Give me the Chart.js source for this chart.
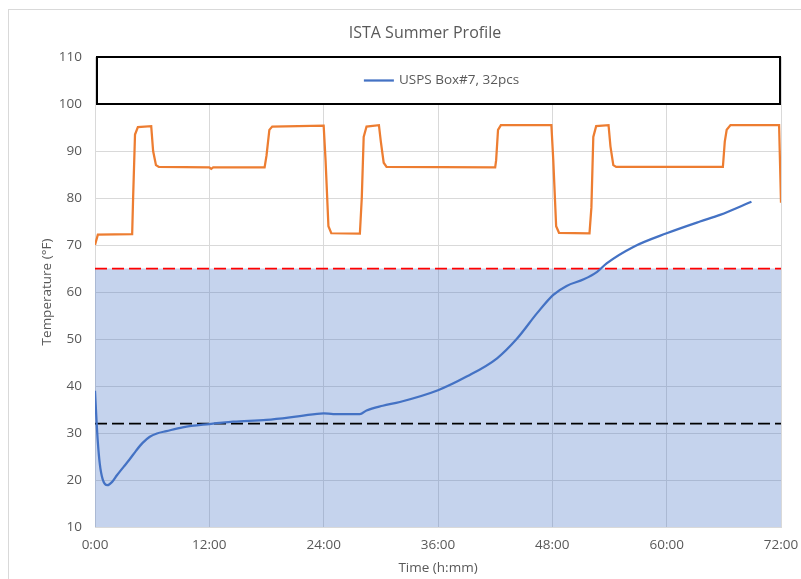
<!DOCTYPE html>
<html>
<head>
<meta charset="utf-8">
<script src="https://cdn.jsdelivr.net/npm/chart.js@4"></script>
<style>
  body { margin: 0; background: #fff; }
  #wrap { width: 801px; height: 579px; }
</style>
</head>
<body>
<div id="wrap"><canvas id="lineChart" width="801" height="579"></canvas></div>
<script>
// ISTA summer chamber profile (orange)
const profileHours = [0, 0.3, 3.9, 4.0, 4.2, 4.5, 5.9, 6.1, 6.4, 6.7, 12.0, 12.2, 12.4, 17.8, 18.0, 18.3, 18.6, 24.0,
    24.2, 24.5, 24.8, 27.8, 28.0, 28.2, 28.5, 29.8, 30.0, 30.3, 30.6, 42.0, 42.1, 42.3, 42.6, 47.9,
    48.1, 48.4, 48.7, 51.9, 52.1, 52.3, 52.6, 53.9, 54.1, 54.4, 54.7, 65.9, 66.1, 66.3, 66.7, 71.8, 72.0];
const profileTemps = [70, 72.2, 72.3, 80, 93.5, 95.1, 95.3, 90, 87, 86.6, 86.5, 86.2, 86.5, 86.5, 89, 94.5, 95.2, 95.4,
    88, 74, 72.5, 72.4, 80, 93, 95.2, 95.5, 92, 87.5, 86.6, 86.5, 88, 94.5, 95.5, 95.5,
    88, 74, 72.6, 72.5, 78, 93, 95.3, 95.5, 91, 87, 86.6, 86.6, 92, 94.5, 95.5, 95.5, 79];

// USPS Box#7, 32pcs product temperature (blue)
const boxHours = [0, 0.15, 0.3, 0.5, 0.8, 1.3, 1.8, 2.3, 3.0, 3.6, 4.3, 5.0, 5.75, 6.5, 7.5, 9.2, 12, 14.5, 18,
    21.5, 24, 25, 27.8, 28.5, 30.2, 32, 36, 39, 42.2, 44.3, 46.4, 48.1, 49.5, 51.3, 52.7, 53.7, 56.5,
    60, 63.5, 65.6, 68.9];
const boxTemps = [39, 33, 28, 23.5, 20.2, 18.9, 19.6, 21, 22.8, 24.3, 26.2, 27.9, 29.2, 29.9, 30.4, 31.2, 31.9, 32.4, 32.8,
    33.6, 34.2, 34.0, 34.0, 34.8, 35.8, 36.6, 39.1, 42, 45.9, 50.1, 55.5, 59.4, 61.3, 62.7, 64.3, 66.1, 69.6,
    72.5, 75, 76.4, 79.2];

// limit lines
const limitHours = [0, 72];
const upperLimit = [65, 65];
const lowerLimit = [32, 32];

const xTicks = [0, 12, 24, 36, 48, 60, 72];
const seriesLabel = 'USPS Box#7, 32pcs';
const chartTitle = 'ISTA Summer Profile';

const toPoints = (xs, ys) => xs.map((x, i) => ({ x: x, y: ys[i] }));

const FONT = "'Open Sans', 'Noto Sans', sans-serif";
const TEXT_COLOR = '#595959';
const GRID_COLOR = '#D9D9D9';

// draws the outer frame, title and the boxed legend inside the plot
const decorPlugin = {
    id: 'decor',
    beforeDraw(chart) {
        const ctx = chart.ctx;
        ctx.save();
        ctx.fillStyle = '#fff';
        ctx.fillRect(0, 0, chart.width, chart.height);
        ctx.strokeStyle = GRID_COLOR;
        ctx.lineWidth = 1;
        ctx.strokeRect(8.5, 9.5, 900, 700);
        ctx.fillStyle = TEXT_COLOR;
        ctx.font = "16px " + FONT;
        ctx.textAlign = 'center';
        ctx.textBaseline = 'middle';
        ctx.fillText(chartTitle, 425, 33);
        ctx.restore();
    },
    afterDatasetsDraw(chart) {
        const ctx = chart.ctx;
        const y = chart.scales.y;
        const area = chart.chartArea;
        const top = y.getPixelForValue(110);
        const bottom = y.getPixelForValue(100);
        const left = area.left + 2;
        const right = area.right - 1;
        ctx.save();
        ctx.fillStyle = '#fff';
        ctx.fillRect(left, top, right - left, bottom - top);
        ctx.strokeStyle = '#000';
        ctx.lineWidth = 2;
        ctx.strokeRect(left, top, right - left, bottom - top);

        ctx.font = "13.5px " + FONT;
        const textW = ctx.measureText(seriesLabel).width;
        const lineW = 30, gap = 5;
        const total = lineW + gap + textW;
        const startX = (left + right) / 2 - total / 2 + 3;
        const midY = (top + bottom) / 2;
        ctx.strokeStyle = '#4472C4';
        ctx.lineWidth = 2.25;
        ctx.beginPath();
        ctx.moveTo(startX, midY);
        ctx.lineTo(startX + lineW, midY);
        ctx.stroke();
        ctx.fillStyle = TEXT_COLOR;
        ctx.textAlign = 'left';
        ctx.textBaseline = 'middle';
        ctx.fillText(seriesLabel, startX + lineW + gap, midY);
        ctx.restore();
    }
};

const data = {
    datasets: [
        {
            label: seriesLabel,
            data: toPoints(boxHours, boxTemps),
            borderColor: '#4472C4',
            borderWidth: 2.25,
            pointRadius: 0,
            cubicInterpolationMode: 'monotone',
            fill: false,
            order: 1
        },
        {
            label: 'Profile',
            data: toPoints(profileHours, profileTemps),
            borderColor: '#ED7D31',
            borderWidth: 2.25,
            pointRadius: 0,
            tension: 0,
            fill: false,
            order: 2
        },
        {
            label: '32°F',
            data: toPoints(limitHours, lowerLimit),
            borderColor: '#000000',
            borderWidth: 1.75,
            borderDash: [12, 5],
            pointRadius: 0,
            fill: false,
            order: 3
        },
        {
            label: '65°F',
            data: toPoints(limitHours, upperLimit),
            borderColor: '#FF0000',
            borderWidth: 1.75,
            borderDash: [12, 5],
            backgroundColor: 'rgba(68, 114, 196, 0.31)',
            pointRadius: 0,
            fill: 'start',
            order: 4
        }
    ]
};

const options = {
    responsive: false,
    animation: false,
    layout: { padding: { left: 0, right: 20, top: 57, bottom: 0 } },
    plugins: {
        legend: { display: false },
        title: { display: false },
        tooltip: { enabled: false }
    },
    scales: {
        x: {
            type: 'linear',
            min: 0,
            max: 72,
            afterBuildTicks: (scale) => { scale.ticks = xTicks.map(v => ({ value: v })); },
            afterFit: (scale) => {
                scale.height = 52;
                scale.paddingLeft = 0;
                scale.paddingRight = 0;
            },
            grid: { color: GRID_COLOR, drawTicks: false },
            border: { color: GRID_COLOR },
            ticks: {
                padding: 10,
                color: TEXT_COLOR,
                font: { family: FONT, size: 13.5 },
                maxRotation: 0,
                callback: (v) => v + ':00'
            },
            title: {
                display: true,
                text: 'Time (h:mm)',
                color: TEXT_COLOR,
                font: { family: FONT, size: 13.5 },
                padding: { top: 0, bottom: 3 }
            }
        },
        y: {
            min: 10,
            max: 110,
            afterFit: (scale) => {
                scale.width = 95;
                scale.paddingTop = 0;
                scale.paddingBottom = 0;
            },
            grid: { color: GRID_COLOR, drawTicks: false },
            border: { color: GRID_COLOR },
            ticks: {
                stepSize: 10,
                padding: 13,
                color: TEXT_COLOR,
                font: { family: FONT, size: 13.5 }
            },
            title: {
                display: true,
                text: 'Temperature (°F)',
                color: TEXT_COLOR,
                font: { family: FONT, size: 13.5 },
                padding: { top: 39, bottom: 0 }
            }
        }
    }
};

const ctx = document.getElementById('lineChart').getContext('2d');
new Chart(ctx, {
    type: 'line',
    data: data,
    options: options,
    plugins: [decorPlugin]
});
</script>
</body>
</html>
